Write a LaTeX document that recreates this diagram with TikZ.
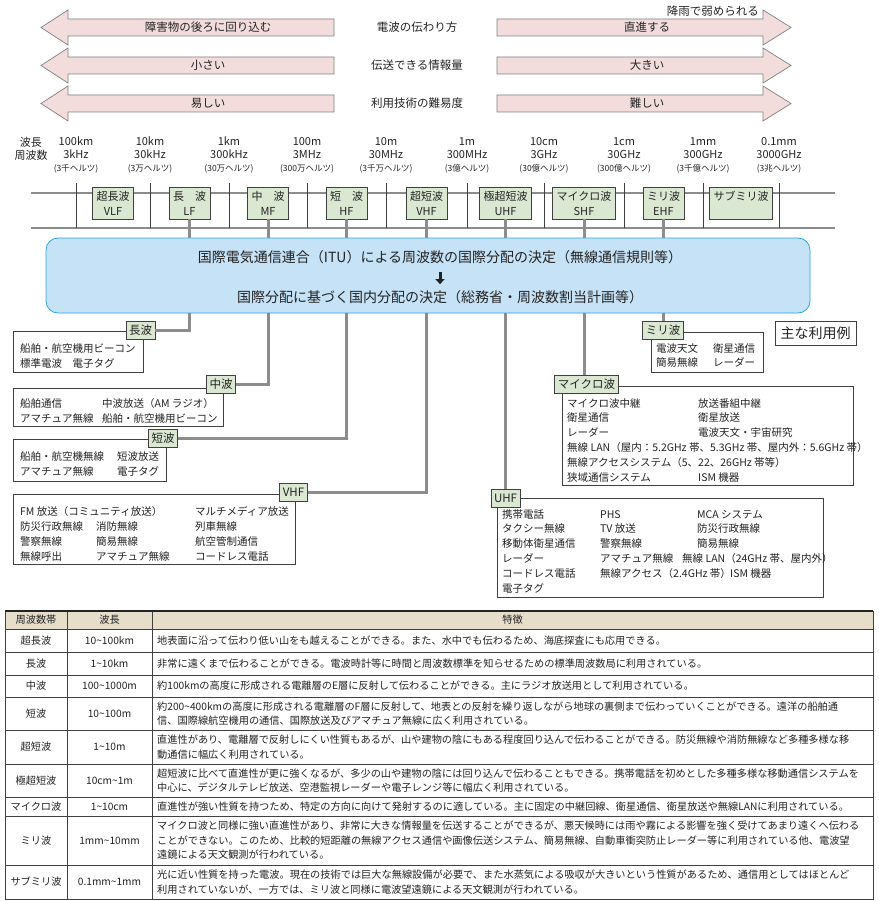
\documentclass[tikz,border=0pt]{standalone}
\usepackage{fontspec}
\setmainfont{Noto Sans CJK JP}
\usetikzlibrary{arrows.meta}
\definecolor{arrowpink}{RGB}{242,221,220}
\definecolor{arrowgray}{RGB}{128,128,128}
\definecolor{bandgreen}{RGB}{218,232,210}
\definecolor{boxgray}{RGB}{64,64,64}
\definecolor{conngray}{RGB}{140,140,140}
\definecolor{itublue}{RGB}{198,226,246}
\definecolor{itublueline}{RGB}{41,168,224}
\definecolor{headbeige}{RGB}{230,221,202}
\definecolor{textgray}{RGB}{35,35,35}
\newcommand{\tld}{\textasciitilde}
\newcommand{\hz}[1]{{\fontsize{8.5}{13}\selectfont #1}}
\begin{document}
\begin{tikzpicture}[x=1pt,y=-1pt,text=textgray,
  pinkarrow/.style={draw=arrowgray,fill=arrowpink,line width=0.7pt},
  arrowtext/.style={font=\fontsize{11.5}{13}\selectfont,inner sep=0pt},
  freqlab/.style={align=center,font=\fontsize{11}{13}\selectfont,inner sep=0pt},
  hline/.style={draw=conngray,line width=2pt},
  sepline/.style={draw=boxgray,line width=0.9pt},
  bandbox/.style={draw=boxgray,fill=bandgreen,line width=0.9pt,align=center,font=\fontsize{11}{15}\selectfont,inner xsep=4pt,inner ysep=0pt,minimum height=32pt},
  conn/.style={draw=conngray,line width=3pt},
  itubox/.style={draw=itublueline,fill=itublue,line width=0.8pt,rounded corners=12pt},
  itutext/.style={font=\fontsize{14}{15}\selectfont,inner sep=0pt},
  itudown/.style={draw=textgray,line width=3pt,-{Triangle[length=5pt,width=9pt]},shorten <=8pt,shorten >=6pt},
  usebox/.style={draw=boxgray,fill=white,line width=0.9pt,anchor=north west,inner sep=0pt},
  usetext/.style={anchor=north west,inner sep=0pt,font=\fontsize{10.5}{15}\selectfont},
  labbox/.style={draw=boxgray,fill=bandgreen,line width=0.9pt,font=\fontsize{11.5}{13}\selectfont,inner xsep=3pt,inner ysep=0pt,minimum height=18pt},
  notebox/.style={draw=boxgray,fill=white,line width=0.9pt,font=\fontsize{14}{16}\selectfont,minimum width=81pt,minimum height=24pt,inner sep=0pt},
  tblline/.style={draw=boxgray,line width=0.6pt},
  tbltext/.style={font=\fontsize{10.2}{14.5}\selectfont,inner sep=0pt},
  feat/.style={tbltext,anchor=west,align=left}]
\useasboundingbox[fill=white] (0,0) rectangle (878,901);
%\draw[step=50pt,very thin,color=gray] (0,0) grid (878,901);
% top arrows
\node[arrowtext,anchor=east] (rain) at (759,11) {降雨で弱められる};
\draw[pinkarrow] (41,27.5) -- (68,10) -- (68,19) -- (334,19) -- (334,36) -- (68,36) -- (68,45) -- cycle;
\draw[pinkarrow] (497,19) -- (763,19) -- (763,10) -- (791,27.5) -- (763,45) -- (763,36) -- (497,36) -- cycle;
\draw[pinkarrow] (41,65.5) -- (68,48) -- (68,57) -- (334,57) -- (334,74) -- (68,74) -- (68,83) -- cycle;
\draw[pinkarrow] (497,57) -- (763,57) -- (763,48) -- (791,65.5) -- (763,83) -- (763,74) -- (497,74) -- cycle;
\draw[pinkarrow] (41,103.5) -- (68,86) -- (68,95) -- (334,95) -- (334,112) -- (68,112) -- (68,121) -- cycle;
\draw[pinkarrow] (497,95) -- (763,95) -- (763,86) -- (791,103.5) -- (763,121) -- (763,112) -- (497,112) -- cycle;
\node[arrowtext] (prop1) at (208,27.5) {障害物の後ろに回り込む};
\node[arrowtext] (prop) at (417,27.5) {電波の伝わり方};
\node[arrowtext] (prop2) at (647,27.5) {直進する};
\node[arrowtext] (info1) at (208,65.5) {小さい};
\node[arrowtext] (info) at (417,65.5) {伝送できる情報量};
\node[arrowtext] (info2) at (647,65.5) {大きい};
\node[arrowtext] (tech1) at (208,103.5) {易しい};
\node[arrowtext] (tech) at (417,103.5) {利用技術の難易度};
\node[arrowtext] (tech2) at (647,103.5) {難しい};
% wavelength / frequency scale
\node[freqlab] (scale) at (31,148.5) {波長\\周波数};
\node[freqlab] (fq0) at (76,155) {100km\\3kHz\\\hz{(3千ヘルツ)}};
\node[freqlab] (fq1) at (150,155) {10km\\30kHz\\\hz{(3万ヘルツ)}};
\node[freqlab] (fq2) at (229,155) {1km\\300kHz\\\hz{(30万ヘルツ)}};
\node[freqlab] (fq3) at (307,155) {100m\\3MHz\\\hz{(300万ヘルツ)}};
\node[freqlab] (fq4) at (386,155) {10m\\30MHz\\\hz{(3千万ヘルツ)}};
\node[freqlab] (fq5) at (467,155) {1m\\300MHz\\\hz{(3億ヘルツ)}};
\node[freqlab] (fq6) at (544,155) {10cm\\3GHz\\\hz{(30億ヘルツ)}};
\node[freqlab] (fq7) at (624,155) {1cm\\30GHz\\\hz{(300億ヘルツ)}};
\node[freqlab] (fq8) at (703,155) {1mm\\300GHz\\\hz{(3千億ヘルツ)}};
\node[freqlab] (fq9) at (779,155) {0.1mm\\3000GHz\\\hz{(3兆ヘルツ)}};
\draw[hline] (31,193) -- (835,193);
\draw[hline] (31,228) -- (835,228);
\draw[sepline] (76,183) -- (76,228);
\draw[sepline] (150,183) -- (150,228);
\draw[sepline] (229,183) -- (229,228);
\draw[sepline] (307,183) -- (307,228);
\draw[sepline] (386,183) -- (386,228);
\draw[sepline] (467,183) -- (467,228);
\draw[sepline] (544,183) -- (544,228);
\draw[sepline] (624,183) -- (624,228);
\draw[sepline] (703,183) -- (703,228);
\draw[sepline] (779,183) -- (779,228);
% allocation
\node[itubox,minimum width=764pt,minimum height=75pt] (itu) at (428,275.5) {};
\node[itutext] (itu1) at (440,257) {国際電気通信連合（ITU）による周波数の国際分配の決定（無線通信規則等）};
\node[itutext] (itu2) at (440,297) {国際分配に基づく国内分配の決定（総務省・周波数割当計画等）};
\draw[itudown] (itu1) -- (itu2);
\node[bandbox] (vlf) at (113,203) {超長波\\VLF};
\node[bandbox] (lf) at (189.5,203) {長　波\\LF};
\node[bandbox] (mf) at (268,203) {中　波\\MF};
\node[bandbox] (hf) at (346.5,203) {短　波\\HF};
\node[bandbox] (vhf) at (426.5,203) {超短波\\VHF};
\node[bandbox] (uhf) at (505.5,203) {極超短波\\UHF};
\node[bandbox] (shf) at (584,203) {マイクロ波\\SHF};
\node[bandbox] (ehf) at (663.5,203) {ミリ波\\EHF};
\node[bandbox] (smm) at (741,203) {サブミリ波\\\phantom{S}};
\draw[conn] (lf.south) -- (lf.south |- itu.north);
\draw[conn] (mf.south) -- (mf.south |- itu.north);
\draw[conn] (hf.south) -- (hf.south |- itu.north);
\draw[conn] (vhf.south) -- (vhf.south |- itu.north);
\draw[conn] (uhf.south) -- (uhf.south |- itu.north);
\draw[conn] (shf.south) -- (shf.south |- itu.north);
\draw[conn] (ehf.south) -- (ehf.south |- itu.north);
% main uses
\node[notebox] (note) at (815.5,333) {主な利用例};
\node[usebox,minimum width=130pt,minimum height=41pt] (lwbox) at (13,331) {};
\node[usetext] (lwtext) at (20,341.5) {\begin{tabular}{@{}l@{}}船舶・航空機用ビーコン\\標準電波　電子タグ\end{tabular}};
\node[labbox] (lwlab) at (140.5,330) {長波};
\node[usebox,minimum width=210pt,minimum height=38pt] (mwbox) at (13,388) {};
\node[usetext] (mwtext) at (20,396.5) {\begin{tabular}{@{}p{82pt}@{}l@{}}船舶通信 & 中波放送（AM ラジオ）\\アマチュア無線 & 船舶・航空機用ビーコン\end{tabular}};
\node[labbox] (mwlab) at (221,384.5) {中波};
\node[usebox,minimum width=153pt,minimum height=42pt] (swbox) at (13,439) {};
\node[usetext] (swtext) at (20,449.5) {\begin{tabular}{@{}p{97pt}@{}l@{}}船舶・航空機無線 & 短波放送\\アマチュア無線 & 電子タグ\end{tabular}};
\node[labbox] (swlab) at (163,438.5) {短波};
\node[usebox,minimum width=282pt,minimum height=70pt] (vhfbox) at (13,494) {};
\node[usetext] (vhftext) at (20,504.5) {\begin{tabular}{@{}p{76pt}@{}p{99pt}@{}l@{}}\multicolumn{2}{@{}l@{}}{FM 放送（コミュニティ放送）} & マルチメディア放送\\防災行政無線 & 消防無線 & 列車無線\\警察無線 & 簡易無線 & 航空管制通信\\無線呼出 & アマチュア無線 & コードレス電話\end{tabular}};
\node[labbox] (vhflab) at (293.5,492) {VHF};
\node[usebox,minimum width=112pt,minimum height=40pt] (mmbox) at (651,332) {};
\node[usetext,font=\fontsize{10.5}{14}\selectfont] (mmtext) at (656,342.5) {\begin{tabular}{@{}p{57pt}@{}l@{}}電波天文 & 衛星通信\\簡易無線 & レーダー\end{tabular}};
\node[labbox] (mmlab) at (663,330) {ミリ波};
\node[usebox,minimum width=291pt,minimum height=99pt] (mwvbox) at (562,386) {};
\node[usetext,font=\fontsize{10.5}{14.8}\selectfont] (mwvtext) at (567,396.5) {\begin{tabular}{@{}p{131pt}@{}l@{}}マイクロ波中継 & 放送番組中継\\衛星通信 & 衛星放送\\レーダー & 電波天文・宇宙研究\\\multicolumn{2}{@{}l@{}}{無線 LAN（屋内：5.2GHz 帯、5.3GHz 帯、屋内外：5.6GHz 帯）}\\\multicolumn{2}{@{}l@{}}{無線アクセスシステム（5、22、26GHz 帯等）}\\狭域通信システム & ISM 機器\end{tabular}};
\node[labbox] (mwvlab) at (586.5,384) {マイクロ波};
\node[usebox,minimum width=326pt,minimum height=99pt] (uhfbox) at (497,498) {};
\node[usetext,font=\fontsize{10.5}{14.8}\selectfont] (uhftext) at (502,507.5) {\begin{tabular}{@{}p{98pt}@{}p{97pt}@{}l@{}}携帯電話 & PHS & MCA システム\\タクシー無線 & TV 放送 & 防災行政無線\\移動体衛星通信 & 警察無線 & 簡易無線\\レーダー & \multicolumn{2}{@{}l@{}}{\makebox[82pt][l]{アマチュア無線}無線 LAN（24GHz 帯、屋内外）}\\コードレス電話 & \multicolumn{2}{@{}l@{}}{\makebox[130pt][l]{無線アクセス（2.4GHz 帯）}ISM 機器}\\電子タグ & & \end{tabular}};
\node[labbox] (uhflab) at (505.5,498) {UHF};
\draw[conn] (lf.south |- itu.south) |- (lwlab.east);
\draw[conn] (mf.south |- itu.south) |- (mwlab.east);
\draw[conn] (hf.south |- itu.south) |- (swlab.east);
\draw[conn] (vhf.south |- itu.south) |- (vhflab.east);
\draw[conn] (uhf.south |- itu.south) -- (uhf.south |- uhflab.north);
\draw[conn] (shf.south |- itu.south) -- (shf.south |- mwvlab.north);
\draw[conn] (ehf.south |- itu.south) -- (ehf.south |- mmlab.north);
% table
\fill[headbeige] (5,611) rectangle (873,629);
\draw[tblline] (5,611) rectangle (873,899);
\draw[tblline] (5,629) -- (873,629);
\draw[tblline] (5,652) -- (873,652);
\draw[tblline] (5,675) -- (873,675);
\draw[tblline] (5,697) -- (873,697);
\draw[tblline] (5,730) -- (873,730);
\draw[tblline] (5,764) -- (873,764);
\draw[tblline] (5,797) -- (873,797);
\draw[tblline] (5,816) -- (873,816);
\draw[tblline] (5,865) -- (873,865);
\draw[tblline] (67,611) -- (67,899);
\draw[tblline] (152,611) -- (152,899);
\draw[line width=1.6pt,draw=textgray] (5,611) -- (873,611);
\node[tbltext] (bandhead) at (36,620) {周波数帯};
\node[tbltext] (wavehead) at (109.5,620) {波長};
\node[tbltext] (feathead) at (512.5,620) {特徴};
\node[tbltext] (band1) at (36,640.5) {超長波};
\node[tbltext] (wave1) at (109.5,640.5) {10\tld100km};
\node[feat] (feat1) at (157,640.5) {地表面に沿って伝わり低い山をも越えることができる。また、水中でも伝わるため、海底探査にも応用できる。};
\node[tbltext] (band2) at (36,663.5) {長波};
\node[tbltext] (wave2) at (109.5,663.5) {1\tld10km};
\node[feat] (feat2) at (157,663.5) {非常に遠くまで伝わることができる。電波時計等に時間と周波数標準を知らせるための標準周波数局に利用されている。};
\node[tbltext] (band3) at (36,686) {中波};
\node[tbltext] (wave3) at (109.5,686) {100\tld1000m};
\node[feat] (feat3) at (157,686) {約100kmの高度に形成される電離層のE層に反射して伝わることができる。主にラジオ放送用として利用されている。};
\node[tbltext] (band4) at (36,713.5) {短波};
\node[tbltext] (wave4) at (109.5,713.5) {10\tld100m};
\node[feat] (feat4) at (157,713.5) {約200\tld400kmの高度に形成される電離層のF層に反射して、地表との反射を繰り返しながら地球の裏側まで伝わっていくことができる。遠洋の船舶通\\信、国際線航空機用の通信、国際放送及びアマチュア無線に広く利用されている。};
\node[tbltext] (band5) at (36,747) {超短波};
\node[tbltext] (wave5) at (109.5,747) {1\tld10m};
\node[feat] (feat5) at (157,747) {直進性があり、電離層で反射しにくい性質もあるが、山や建物の陰にもある程度回り込んで伝わることができる。防災無線や消防無線など多種多様な移\\動通信に幅広く利用されている。};
\node[tbltext] (band6) at (36,780.5) {極超短波};
\node[tbltext] (wave6) at (109.5,780.5) {10cm\tld1m};
\node[feat] (feat6) at (157,780.5) {超短波に比べて直進性が更に強くなるが、多少の山や建物の陰には回り込んで伝わることもできる。携帯電話を初めとした多種多様な移動通信システムを\\中心に、デジタルテレビ放送、空港監視レーダーや電子レンジ等に幅広く利用されている。};
\node[tbltext] (band7) at (36,806.5) {マイクロ波};
\node[tbltext] (wave7) at (109.5,806.5) {1\tld10cm};
\node[feat] (feat7) at (157,806.5) {直進性が強い性質を持つため、特定の方向に向けて発射するのに適している。主に固定の中継回線、衛星通信、衛星放送や無線LANに利用されている。};
\node[tbltext] (band8) at (36,840.5) {ミリ波};
\node[tbltext] (wave8) at (109.5,840.5) {1mm\tld10mm};
\node[feat] (feat8) at (157,840.5) {マイクロ波と同様に強い直進性があり、非常に大きな情報量を伝送することができるが、悪天候時には雨や霧による影響を強く受けてあまり遠くへ伝わる\\ことができない。このため、比較的短距離の無線アクセス通信や画像伝送システム、簡易無線、自動車衝突防止レーダー等に利用されている他、電波望\\遠鏡による天文観測が行われている。};
\node[tbltext] (band9) at (36,882) {サブミリ波};
\node[tbltext] (wave9) at (109.5,882) {0.1mm\tld1mm};
\node[feat] (feat9) at (157,882) {光に近い性質を持った電波。現在の技術では巨大な無線設備が必要で、また水蒸気による吸収が大きいという性質があるため、通信用としてはほとんど\\利用されていないが、一方では、ミリ波と同様に電波望遠鏡による天文観測が行われている。};
\end{tikzpicture}
\end{document}
